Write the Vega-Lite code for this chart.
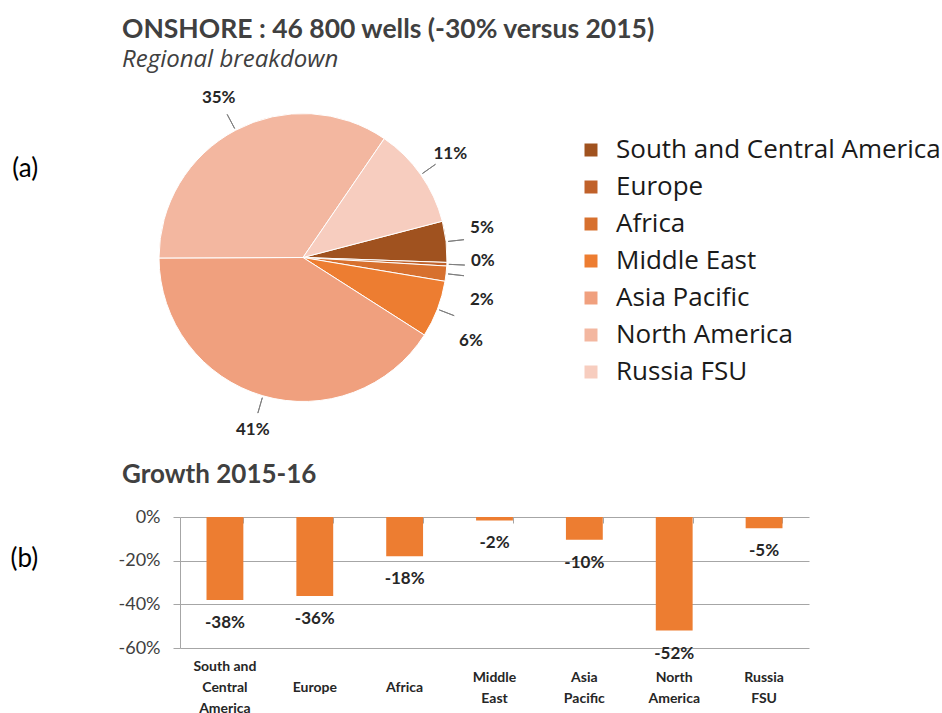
{
  "$schema": "https://vega.github.io/schema/vega-lite/v6.json",
  "background": "white",
  "padding": {"left": 10, "top": 16, "right": 0, "bottom": 0},
  "bounds": "flush",
  "spacing": 115,
  "config": {
    "font": "Lato",
    "view": {"stroke": null},
    "locale": {"number": {"decimal": ".", "thousands": " ", "grouping": [3], "currency": ["", ""], "minus": "-"}}
  },
  "datasets": {
    "share": [
      {"region": "South and Central America", "share": 0.046, "i": 1},
      {"region": "Europe", "share": 0.004, "i": 2},
      {"region": "Africa", "share": 0.017, "i": 3},
      {"region": "Middle East", "share": 0.064, "i": 4},
      {"region": "Asia Pacific", "share": 0.409, "i": 5},
      {"region": "North America", "share": 0.346, "i": 6},
      {"region": "Russia FSU", "share": 0.114, "i": 7}
    ],
    "growth": [
      {"region": "South and Central America", "growth": -0.38},
      {"region": "Europe", "growth": -0.362},
      {"region": "Africa", "growth": -0.18},
      {"region": "Middle East", "growth": -0.016},
      {"region": "Asia Pacific", "growth": -0.104},
      {"region": "North America", "growth": -0.52},
      {"region": "Russia FSU", "growth": -0.052}
    ]
  },
  "title": {
    "text": "ONSHORE : 46 800 wells (-30%  versus 2015)",
    "subtitle": "Regional breakdown",
    "anchor": "start",
    "dx": 112,
    "fontSize": 26.5,
    "fontWeight": "bold",
    "color": "#404040",
    "subtitleFont": "Open Sans",
    "subtitleFontSize": 24,
    "subtitleFontStyle": "italic",
    "subtitleColor": "#404040",
    "subtitlePadding": 5,
    "offset": 17
  },
  "vconcat": [
    {
      "width": 246,
      "height": 289,
      "data": {"name": "share"},
      "title": {"text": "(a)", "orient": "left", "anchor": "middle", "angle": 0, "align": "right", "baseline": "middle", "offset": 93, "dy": -89, "fontSize": 26, "fontWeight": "normal", "color": "#000000"},
      "layer": [
        {
          "mark": {"type": "arc", "outerRadius": 144, "stroke": "white", "strokeWidth": 1},
          "encoding": {
            "theta": {"field": "share", "type": "quantitative", "stack": true, "scale": {"range": [1.316, 7.5992]}},
            "order": {"field": "i", "type": "quantitative"},
            "color": {
              "field": "region", "type": "nominal",
              "scale": {
                "domain": ["South and Central America", "Europe", "Africa", "Middle East", "Asia Pacific", "North America", "Russia FSU"],
                "range": ["#A0521F", "#C0612A", "#D7702E", "#ED7D31", "#F0A07E", "#F3B7A0", "#F7CDBF"]
              },
              "legend": {
                "title": null, "orient": "none", "legendX": 398, "legendY": 24, "padding": 0,
                "symbolType": "square", "symbolSize": 169, "symbolStrokeWidth": 0,
                "labelFont": "Open Sans", "labelFontSize": 26, "labelColor": "#1a1a1a", "labelOffset": 12, "rowPadding": 11, "labelLimit": 400
              }
            }
          }
        },
        {
          "mark": {"type": "arc", "innerRadius": 146, "outerRadius": 162, "padAngle": 3.14, "filled": false, "stroke": "#7f7f7f", "strokeWidth": 1},
          "encoding": {
            "theta": {"field": "share", "type": "quantitative", "stack": true},
            "order": {"field": "i", "type": "quantitative"}
          }
        },
        {
          "mark": {"type": "text", "radius": 180, "fontSize": 17, "fontWeight": "bold", "color": "#262626",
            "dy": {"expr": "datum.region === 'South and Central America' ? -10 : datum.region === 'Europe' ? -5 : datum.region === 'Africa' ? 22 : datum.region === 'Middle East' ? 19 : 0"}},
          "encoding": {
            "theta": {"field": "share", "type": "quantitative", "stack": true},
            "order": {"field": "i", "type": "quantitative"},
            "text": {"field": "share", "type": "quantitative", "format": ".0%"}
          }
        }
      ]
    },
    {
      "width": 629,
      "height": 131,
      "data": {"name": "growth"},
      "title": {"text": "Growth 2015-16", "anchor": "start", "dx": 112, "fontSize": 26, "fontWeight": "bold", "color": "#404040", "offset": 20},
      "layer": [
        {
          "mark": {"type": "bar", "color": "#ED7D31"},
          "encoding": {
            "x": {
              "field": "region", "type": "nominal", "sort": null,
              "scale": {"paddingInner": 0.59, "paddingOuter": 0.295},
              "axis": {
                "title": null, "ticks": false, "tickSize": 0, "domain": false, "labelAngle": 0,
                "labelExpr": "datum.label === 'South and Central America' ? ['South and', 'Central', 'America'] : (datum.label === 'Europe' || datum.label === 'Africa') ? [' ', datum.label] : split(datum.label, ' ')",
                "labelFontSize": 14, "labelFontWeight": "bold", "labelColor": "#262626",
                "labelPadding": 18, "labelLineHeight": 21,
                "labelBaseline": {"condition": {"test": "indexof(['Middle East', 'Asia Pacific', 'North America', 'Russia FSU'], datum.value) >= 0", "value": "line-top"}, "value": "middle"}
              }
            },
            "y": {
              "field": "growth", "type": "quantitative",
              "scale": {"domain": [-0.6, 0], "nice": false},
              "axis": {
                "values": [0, -0.2, -0.4, -0.6], "format": ".0%",
                "labelFontSize": 18, "labelColor": "#404040", "labelPadding": 13,
                "tickSize": 7, "tickColor": "#a6a6a6", "domainColor": "#a6a6a6", "gridColor": "#a6a6a6",
                "title": "(b)", "titleAngle": 0, "titleAlign": "left", "titleBaseline": "middle",
                "titleX": -170, "titleY": 41, "titleFontSize": 26, "titleFontWeight": "normal", "titleColor": "#000000"
              }
            }
          }
        },
        {
          "mark": {"type": "text", "fontSize": 17, "fontWeight": "bold", "color": "#262626", "baseline": "middle", "dy": 23},
          "encoding": {
            "x": {
              "field": "region", "type": "nominal", "sort": null,
              "axis": {"orient": "top", "title": null, "labels": false, "domain": false, "ticks": true, "tickBand": "extent", "tickSize": -6, "tickColor": "#a6a6a6", "grid": false}
            },
            "y": {"field": "growth", "type": "quantitative"},
            "text": {"field": "growth", "type": "quantitative", "format": ".0%"}
          }
        }
      ],
      "resolve": {"axis": {"x": "independent"}}
    }
  ]
}
